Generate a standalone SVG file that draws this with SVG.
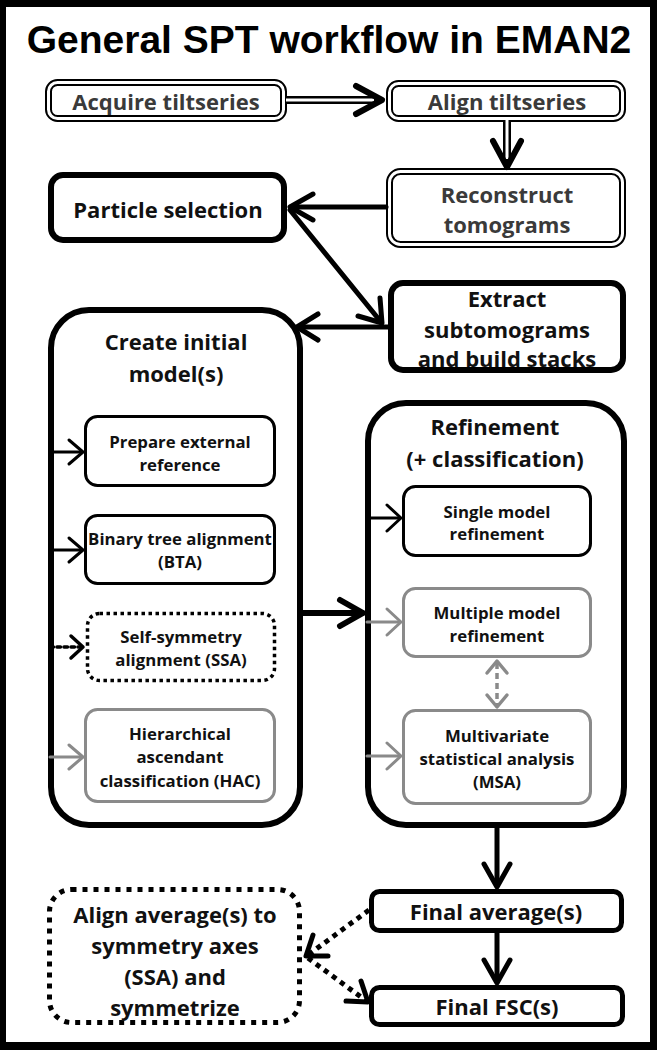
<svg xmlns="http://www.w3.org/2000/svg" width="657" height="1050" viewBox="0 0 657 1050">
<defs>
<style>
.t{font-family:"Open Sans","Liberation Sans",sans-serif;font-weight:700;text-anchor:middle;fill:#111}
.h{font-size:22px}
.s{font-size:16.8px}
.dim{fill:#3a3a3a}
.thick{fill:#fff;stroke:#000;stroke-width:6}
.thin5{fill:#fff;stroke:#000;stroke-width:5}
.dblo{fill:#fff;stroke:#000;stroke-width:7}
.dbli{fill:none;stroke:#fff;stroke-width:3}
.box{fill:#fff;stroke:#000;stroke-width:3}
.gbox{fill:#fff;stroke:#8a8a8a;stroke-width:3}
.dot{fill:#fff;stroke:#000;stroke-width:3.5;stroke-dasharray:3.5 3.5}
.bigdot{fill:#fff;stroke:#000;stroke-width:5;stroke-dasharray:5 6}
.c{fill:none;stroke:#000;stroke-linecap:round;stroke-linejoin:round}
.g{stroke:#8a8a8a}
</style>
</defs>
<rect x="0" y="0" width="657" height="1050" fill="#000"/>
<rect x="6" y="7" width="644" height="1035" fill="#fff"/>
<g id="title">
<text x="329" y="53" font-family="'Liberation Sans',Arial,sans-serif" font-weight="700" font-size="39" text-anchor="middle" fill="#000">General SPT workflow in EMAN2</text>
</g>
<g id="acquire">
<rect class="dblo" x="48.5" y="82.5" width="235" height="36" rx="9"/>
<rect class="dbli" x="48.5" y="82.5" width="235" height="36" rx="9"/>
<text class="t h dim" x="166" y="110">Acquire tiltseries</text>
</g>
<g id="align">
<rect class="dblo" x="389.5" y="83.5" width="233" height="35" rx="9"/>
<rect class="dbli" x="389.5" y="83.5" width="233" height="35" rx="9"/>
<text class="t h dim" x="507" y="110">Align tiltseries</text>
</g>
<g id="reconstruct">
<rect class="dblo" x="389.5" y="171.5" width="233" height="73" rx="11"/>
<rect class="dbli" x="389.5" y="171.5" width="233" height="73" rx="11"/>
<text class="t h dim" x="507" y="203">Reconstruct</text>
<text class="t h dim" x="507" y="233">tomograms</text>
</g>
<g id="particle">
<rect class="thick" x="51" y="175" width="233" height="65" rx="12"/>
<text class="t h" x="168" y="218">Particle selection</text>
</g>
<g id="extract">
<rect class="thick" x="391" y="283" width="232" height="87" rx="12"/>
<text class="t h" x="507" y="307">Extract</text>
<text class="t h" x="507" y="338">subtomograms</text>
<text class="t h" x="507" y="367">and build stacks</text>
</g>
<g id="create">
<rect class="thick" x="51" y="310" width="249" height="515" rx="38"/>
<text class="t h" x="176" y="350">Create initial</text>
<text class="t h" x="176" y="382">model(s)</text>
</g>
<g id="prepare">
<rect class="box" x="85.5" y="416.5" width="189" height="69" rx="12"/>
<text class="t s" x="180" y="448">Prepare external</text>
<text class="t s" x="180" y="471">reference</text>
</g>
<g id="bta">
<rect class="box" x="85.5" y="515.5" width="189" height="68" rx="12"/>
<text class="t s" x="180" y="545">Binary tree alignment</text>
<text class="t s" x="180" y="568">(BTA)</text>
</g>
<g id="ssa">
<rect class="dot" x="87.5" y="613.5" width="187" height="67" rx="12"/>
<text class="t s" x="181" y="643">Self-symmetry</text>
<text class="t s" x="181" y="666">alignment (SSA)</text>
</g>
<g id="hac">
<rect class="gbox" x="85.5" y="709.5" width="189" height="92" rx="12"/>
<text class="t s" x="180" y="740">Hierarchical</text>
<text class="t s" x="180" y="763">ascendant</text>
<text class="t s" x="180" y="787">classification (HAC)</text>
</g>
<g id="refinement">
<rect class="thick" x="368" y="403" width="256" height="422" rx="38"/>
<text class="t h" x="495" y="435">Refinement</text>
<text class="t h" x="495" y="467">(+ classification)</text>
</g>
<g id="single">
<rect class="box" x="403.5" y="486.5" width="187" height="69" rx="12"/>
<text class="t s" x="497" y="518">Single model</text>
<text class="t s" x="497" y="540">refinement</text>
</g>
<g id="multiple">
<rect class="gbox" x="403.5" y="588.5" width="187" height="68" rx="12"/>
<text class="t s" x="497" y="619">Multiple model</text>
<text class="t s" x="497" y="642">refinement</text>
</g>
<g id="msa">
<rect class="gbox" x="403.5" y="710.5" width="187" height="93" rx="12"/>
<text class="t s" x="497" y="742">Multivariate</text>
<text class="t s" x="497" y="765">statistical analysis</text>
<text class="t s" x="497" y="788">(MSA)</text>
</g>
<g id="finalavg">
<rect class="thin5" x="371.5" y="891.5" width="250" height="39" rx="8"/>
<text class="t h" x="496" y="920">Final average(s)</text>
</g>
<g id="finalfsc">
<rect class="thin5" x="371.5" y="987.5" width="251" height="37" rx="8"/>
<text class="t h" x="497" y="1015">Final FSC(s)</text>
</g>
<g id="symalign">
<rect class="bigdot" x="49.5" y="889.5" width="250" height="133" rx="22"/>
<text class="t h" x="175" y="923">Align average(s) to</text>
<text class="t h" x="175" y="954">symmetry axes</text>
<text class="t h" x="175" y="985">(SSA) and</text>
<text class="t h" x="175" y="1016">symmetrize</text>
</g>
<g id="connectors">
<!-- acquire -> align (double line) -->
<line x1="287" y1="100" x2="378" y2="100" stroke="#000" stroke-width="8"/>
<line x1="286" y1="100" x2="374" y2="100" stroke="#fff" stroke-width="3"/>
<polyline class="c" stroke-width="6" points="356,86 382,100 356,114"/>
<!-- align -> reconstruct (double line) -->
<line x1="507" y1="121" x2="507" y2="163" stroke="#000" stroke-width="8"/>
<line x1="507" y1="120" x2="507" y2="159" stroke="#fff" stroke-width="3"/>
<polyline class="c" stroke-width="6" points="493,141 507,167 521,141"/>
<!-- reconstruct -> particle -->
<line class="c" stroke-width="5" x1="386" y1="207" x2="291" y2="207"/>
<polyline class="c" stroke-width="5" points="313,194 290,207 313,220"/>
<!-- particle -> extract -->
<line class="c" stroke-width="5" x1="290" y1="210" x2="381" y2="322"/>
<polyline class="c" stroke-width="5" points="358,316 382,323 380,298"/>
<!-- extract -> create -->
<line class="c" stroke-width="5" x1="388" y1="327" x2="298" y2="327"/>
<polyline class="c" stroke-width="5" points="318,314 297,327 318,340"/>
<!-- create -> refinement -->
<line class="c" stroke-width="6" x1="303" y1="613" x2="362" y2="613"/>
<polyline class="c" stroke-width="6" points="340,600 363,613 340,626"/>
<!-- inner create arrows -->
<line class="c" stroke-width="3" x1="50" y1="452" x2="82" y2="452"/>
<polyline class="c" stroke-width="3" points="69,440 83,452 69,464"/>
<line class="c" stroke-width="3" x1="50" y1="550" x2="82" y2="550"/>
<polyline class="c" stroke-width="3" points="69,538 83,550 69,562"/>
<line class="c" stroke-width="3.5" stroke-dasharray="3.5 3.5" stroke-linecap="butt" x1="50" y1="647" x2="80" y2="647"/>
<polyline class="c" stroke-width="3.5" points="71,636 83,647 71,658"/>
<line class="c g" stroke-width="3" x1="50" y1="757" x2="82" y2="757"/>
<polyline class="c g" stroke-width="3" points="69,745 83,757 69,769"/>
<!-- inner refinement arrows -->
<line class="c" stroke-width="3" x1="367" y1="518" x2="400" y2="518"/>
<polyline class="c" stroke-width="3" points="387,505 401,518 387,531"/>
<line class="c g" stroke-width="3" x1="367" y1="622" x2="400" y2="622"/>
<polyline class="c g" stroke-width="3" points="387,609 401,622 387,635"/>
<line class="c g" stroke-width="3" x1="367" y1="756" x2="400" y2="756"/>
<polyline class="c g" stroke-width="3" points="387,743 401,756 387,769"/>
<!-- multiple <-> msa dashed -->
<line class="g" stroke-width="3.5" stroke-dasharray="6 4" fill="none" x1="497" y1="663" x2="497" y2="705"/>
<polyline class="c g" stroke-width="3.5" points="487,673 497,661 507,673"/>
<polyline class="c g" stroke-width="3.5" points="487,695 497,707 507,695"/>
<!-- refinement -> final avg -->
<line class="c" stroke-width="5" x1="497" y1="828" x2="497" y2="885"/>
<polyline class="c" stroke-width="5" points="484,864 497,887 510,864"/>
<!-- final avg -> final fsc -->
<line class="c" stroke-width="5" x1="497" y1="933" x2="497" y2="981"/>
<polyline class="c" stroke-width="5" points="484,960 497,983 510,960"/>
<!-- final avg -> symmetrize (dotted) -->
<line stroke="#000" stroke-width="5" stroke-dasharray="5 5" x1="369" y1="910" x2="308" y2="955"/>
<polyline class="c" stroke-width="5" points="313,935 306,956 328,956"/>
<!-- symmetrize -> final fsc (dotted) -->
<line stroke="#000" stroke-width="5" stroke-dasharray="5 5" x1="308" y1="958" x2="365" y2="1000"/>
<polyline class="c" stroke-width="5" points="346,1001 368,1002 361,981"/>
</g>
</svg>
